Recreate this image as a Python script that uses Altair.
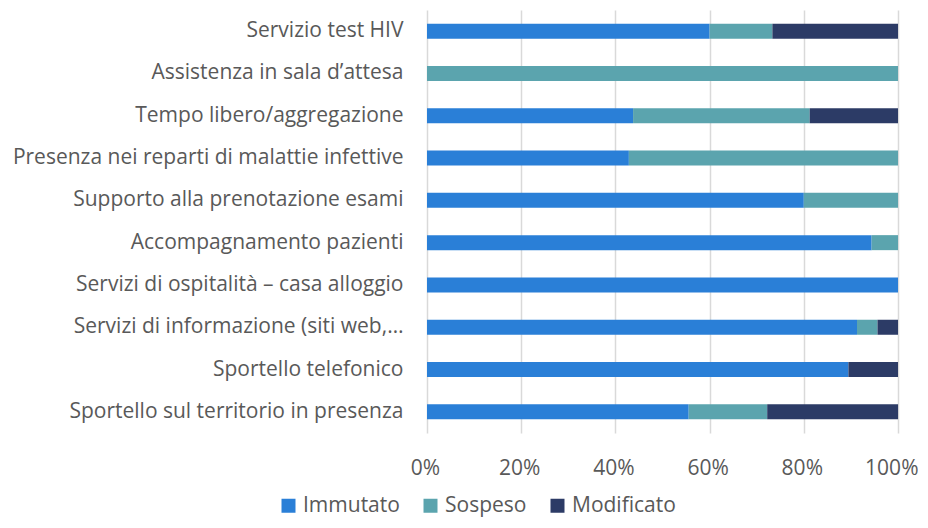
import altair as alt
import pandas as pd

categories = [
    "Servizio test HIV",
    "Assistenza in sala d\u2019attesa",
    "Tempo libero/aggregazione",
    "Presenza nei reparti di malattie infettive",
    "Supporto alla prenotazione esami",
    "Accompagnamento pazienti",
    "Servizi di ospitalit\u00e0 \u2013 casa alloggio",
    "Servizi di informazione (siti web,\u2026",
    "Sportello telefonico",
    "Sportello sul territorio in presenza",
]
series = ["Immutato", "Sospeso", "Modificato"]
immutato = [60.0, 0.0, 43.75, 42.86, 80.0, 94.4, 100.0, 91.30, 89.47, 55.56]
sospeso = [13.33, 100.0, 37.5, 57.14, 20.0, 5.6, 0.0, 4.35, 0.0, 16.67]
modificato = [26.67, 0.0, 18.75, 0.0, 0.0, 0.0, 0.0, 4.35, 10.53, 27.78]
colors = ["#2A7FD7", "#5BA4AE", "#2C3B66"]
ticks = [0, 0.2, 0.4, 0.6, 0.8, 1.0]

rows = []
for i, c in enumerate(categories):
    for j, (s, vals) in enumerate(zip(series, [immutato, sospeso, modificato])):
        rows.append({"cat": c, "serie": s, "val": vals[i] / 100.0, "ord": j})
df = pd.DataFrame(rows)

font = "Open Sans"
grey = "#595959"

chart = alt.Chart(df).mark_bar().encode(
    y=alt.Y("cat:N", sort=categories, title=None,
            scale=alt.Scale(paddingInner=0.645, paddingOuter=0.3225),
            axis=alt.Axis(ticks=False, domain=False, labelPadding=24,
                          labelFontSize=21, labelColor=grey, labelFont=font,
                          labelLimit=600)),
    x=alt.X("val:Q", stack="zero", title=None,
            scale=alt.Scale(domain=[0, 1], nice=False),
            axis=alt.Axis(format=".0%", values=ticks,
                          ticks=False, domain=False, labelPadding=24,
                          labelFlush=False,
                          labelAlign={"condition": {"test": "datum.value == 1", "value": "right"}, "value": "center"},
                          labelOffset={"condition": {"test": "datum.value == 1", "value": 20}, "value": -2},
                          labelFontSize=21, labelColor=grey, labelFont=font,
                          grid=True, gridColor="#D9D9D9", gridWidth=1.5)),
    color=alt.Color("serie:N", sort=series,
                    scale=alt.Scale(domain=series, range=colors),
                    legend=alt.Legend(title=None, orient="none", direction="horizontal",
                                      legendX=-149, legendY=485,
                                      symbolType="square", symbolSize=196,
                                      symbolStrokeWidth=0, symbolOpacity=1,
                                      labelFontSize=21, labelColor=grey, labelFont=font,
                                      columnPadding=20, labelOffset=4)),
    order=alt.Order("ord:Q"),
).properties(
    width=471, height=423,
    autosize=alt.AutoSizeParams(type="none"),
    padding={"left": 419, "top": 2, "right": 20, "bottom": 87},
).configure_view(stroke=None)

chart.save("out.html", embed_options={"renderer": "svg", "actions": False})
